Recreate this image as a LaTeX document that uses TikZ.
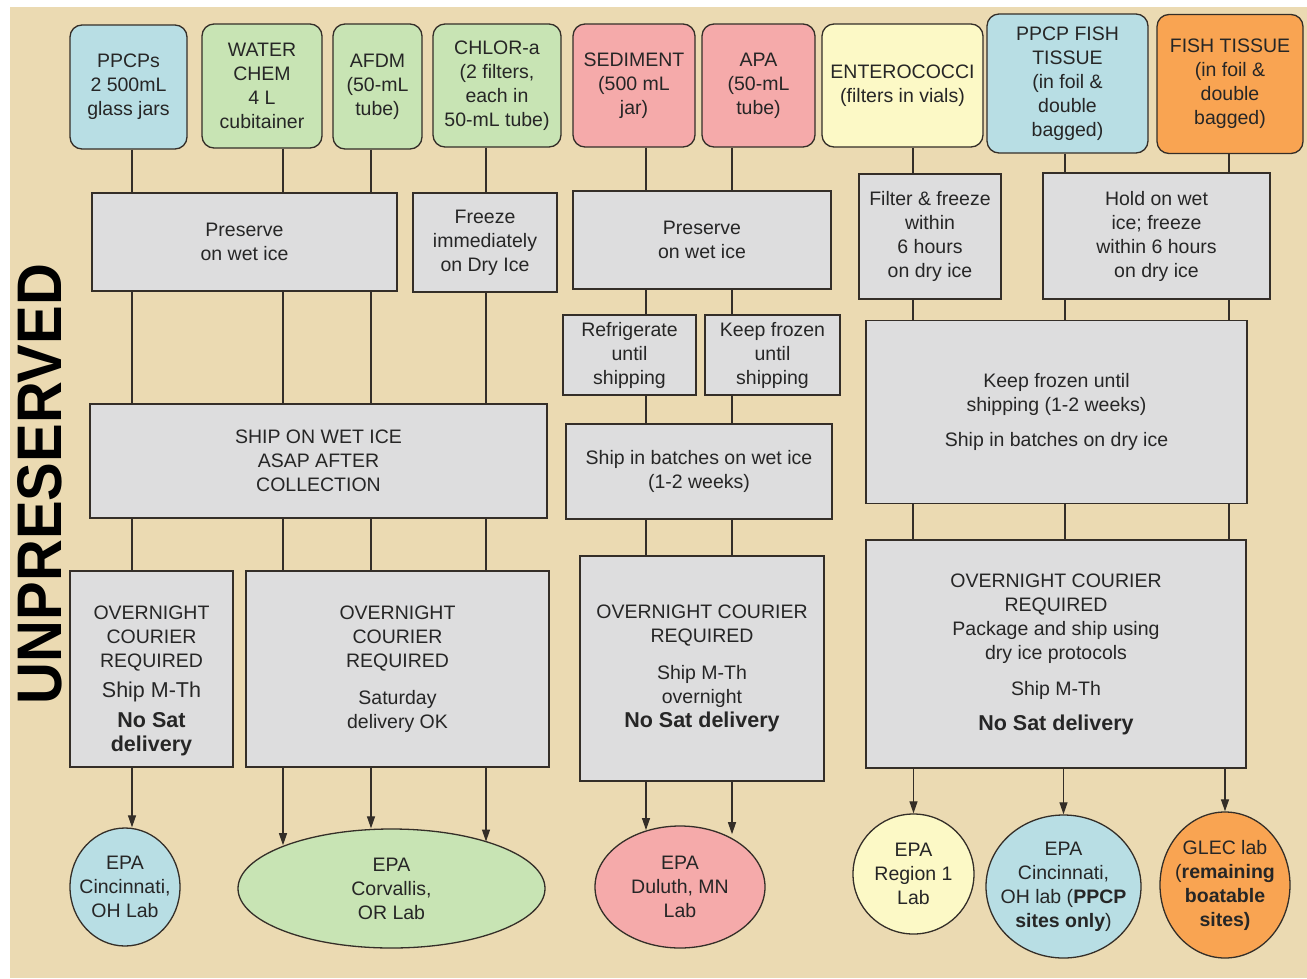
\documentclass[tikz,border=0pt]{standalone}
\usepackage{fontspec}
\setmainfont{Liberation Sans}
\usetikzlibrary{arrows.meta}
\usetikzlibrary{shapes.geometric}

\definecolor{parch}{RGB}{235,218,178}
\definecolor{boxgray}{RGB}{221,221,222}
\definecolor{edge}{RGB}{52,46,40}
\definecolor{sampblue}{RGB}{184,222,228}
\definecolor{sampgreen}{RGB}{200,228,180}
\definecolor{samppink}{RGB}{245,170,170}
\definecolor{sampyellow}{RGB}{252,249,198}
\definecolor{samporange}{RGB}{249,164,82}

\newcommand{\bigtxt}{\fontsize{21.5}{24}\selectfont}

\tikzset{
  txt/.style={font=\fontsize{19.5}{24}\selectfont, align=center, text=black!85},
  sample/.style={txt, draw=edge, line width=1.3pt, rounded corners=12pt, inner sep=0pt},
  stepbox/.style={txt, draw=edge, line width=1.3pt, fill=boxgray, inner sep=0pt},
  lab/.style={ellipse, draw=edge, line width=1.3pt, inner sep=0pt},
  ln/.style={draw=edge, line width=1.2pt},
  arr/.style={ln, -{Triangle[length=12pt, width=8pt]}}
}

\begin{document}
\begin{tikzpicture}[x=1pt, y=-1pt]
        % Canvas
        \useasboundingbox (0, 0) rectangle (1307, 978);
        \fill[parch] (10, 7) rectangle (1307, 978);

        % Side title
        \node[rotate=90, font=\fontsize{63}{63}\selectfont\bfseries] (unp) at (40, 484) {\scalebox{0.92}[1]{UNPRESERVED}};

        % Sample containers
        \node[sample, fill=sampblue, minimum width=117pt, minimum height=124pt] (ppcp) at (128.5, 87) {PPCPs\\2 500mL\\glass jars};
        \node[sample, fill=sampgreen, minimum width=120pt, minimum height=124pt] (wchem) at (262, 86) {WATER\\CHEM\\4 L\\cubitainer};
        \node[sample, fill=sampgreen, minimum width=89pt, minimum height=125pt] (afdm) at (377.5, 86.5) {AFDM\\(50-mL\\tube)};
        \node[sample, fill=sampgreen, minimum width=128pt, minimum height=123pt] (chlor) at (497, 85.5) {CHLOR-a\\(2 filters,\\each in\\50-mL tube)};
        \node[sample, fill=samppink, minimum width=122pt, minimum height=123pt] (sed) at (634, 85.5) {SEDIMENT\\(500 mL\\jar)};
        \node[sample, fill=samppink, minimum width=113pt, minimum height=123pt] (apa) at (758.5, 85.5) {APA\\(50-mL\\tube)};
        \node[sample, fill=sampyellow, minimum width=161pt, minimum height=123pt] (ent) at (902.5, 85.5) {ENTEROCOCCI\\(filters in vials)};
        \node[sample, fill=sampblue, minimum width=161pt, minimum height=139pt] (pfish) at (1067.5, 83.5) {PPCP FISH\\TISSUE\\(in foil \&\\double\\bagged)};
        \node[sample, fill=samporange, minimum width=146pt, minimum height=139pt] (fish) at (1230, 84) {FISH TISSUE\\(in foil \&\\double\\bagged)};

        % Field handling
        \node[stepbox, minimum width=305pt, minimum height=98pt] (prs1) at (244.5, 242) {Preserve\\on wet ice};
        \node[stepbox, minimum width=144pt, minimum height=99pt] (frz) at (485, 242.5) {Freeze\\immediately\\on Dry Ice};
        \node[stepbox, minimum width=258pt, minimum height=98pt] (prs2) at (702, 240) {Preserve\\on wet ice};
        \node[stepbox, minimum width=142pt, minimum height=125pt] (filt) at (930, 236.5) {Filter \& freeze\\within\\6 hours\\on dry ice};
        \node[stepbox, minimum width=227pt, minimum height=126pt] (hold) at (1156.5, 236) {Hold on wet\\ice; freeze\\within 6 hours\\on dry ice};

        % Storage
        \node[stepbox, minimum width=133pt, minimum height=80pt] (refr) at (629.5, 355) {Refrigerate\\until\\shipping};
        \node[stepbox, minimum width=135pt, minimum height=80pt] (keep) at (772.5, 355) {Keep frozen\\until\\shipping};
        \node[stepbox, minimum width=381pt, minimum height=183pt] (frzship) at (1056.5, 412) {Keep frozen until\\shipping (1-2 weeks)\\[11pt]Ship in batches on dry ice};

        % Shipping
        \node[stepbox, minimum width=457pt, minimum height=114pt] (shipwet) at (318.5, 461) {SHIP ON WET ICE\\ASAP AFTER\\COLLECTION};
        \node[stepbox, minimum width=266pt, minimum height=95pt] (batch) at (699, 471.5) {Ship in batches on wet ice\\(1-2 weeks)};

        % Courier rules
        \node[stepbox, minimum width=163pt, minimum height=196pt] (ovn1) at (151.5, 669) {\rule{0pt}{38pt}OVERNIGHT\\COURIER\\REQUIRED\\[6pt]{\bigtxt Ship M-Th}\\[6pt]{\bigtxt\bfseries No Sat}\\{\bigtxt\bfseries delivery}};
        \node[stepbox, minimum width=303pt, minimum height=196pt] (ovn2) at (397.5, 669) {OVERNIGHT\\COURIER\\REQUIRED\\[13pt]Saturday\\delivery OK};
        \node[stepbox, minimum width=244pt, minimum height=225pt] (ovn3) at (702, 668.5) {OVERNIGHT COURIER\\REQUIRED\\[13pt]Ship M-Th\\overnight\\{\bigtxt\bfseries No Sat delivery}};
        \node[stepbox, minimum width=380pt, minimum height=228pt] (ovn4) at (1056, 654) {OVERNIGHT COURIER\\REQUIRED\\Package and ship using\\dry ice protocols\\[12pt]Ship M-Th\\[11pt]{\bigtxt\bfseries No Sat delivery}};

        % Labs
        \node[lab, fill=sampblue, minimum width=110pt, minimum height=118pt] (labc1) at (125, 887) {};
        \node[txt] at (labc1) {EPA\\Cincinnati,\\OH Lab};
        \node[lab, fill=sampgreen, minimum width=307pt, minimum height=119pt] (labcv) at (391.5, 888.5) {};
        \node[txt] at (labcv) {EPA\\Corvallis,\\OR Lab};
        \node[lab, fill=samppink, minimum width=170pt, minimum height=122pt] (labd) at (680, 887) {};
        \node[txt] at (labd) {EPA\\Duluth, MN\\Lab};
        \node[lab, fill=sampyellow, minimum width=121pt, minimum height=120pt] (labr1) at (913.5, 874) {};
        \node[txt] at (labr1) {EPA\\Region 1\\Lab};
        \node[lab, fill=sampblue, minimum width=155pt, minimum height=143pt] (labc2) at (1063.5, 886.5) {};
        \node[txt] at (labc2) {EPA\\Cincinnati,\\OH lab (\textbf{PPCP}\\\textbf{sites only})};
        \node[lab, fill=samporange, minimum width=130pt, minimum height=146pt] (labg) at (1225, 885) {};
        \node[txt] at (labg) {GLEC lab\\(\textbf{remaining}\\\textbf{boatable}\\\textbf{sites)}};

        % Column guides
        \coordinate (k1) at (132, 0);
        \coordinate (k2) at (283, 0);
        \coordinate (k3) at (371, 0);
        \coordinate (k4) at (486, 0);
        \coordinate (k5) at (646, 0);
        \coordinate (k6) at (732, 0);
        \coordinate (k7) at (913, 0);
        \coordinate (k8) at (1065, 0);
        \coordinate (k9) at (1229, 0);

        % PPCPs
        \draw[ln] (ppcp.south -| k1) -- (prs1.north -| k1);
        \draw[ln] (prs1.south -| k1) -- (shipwet.north -| k1);
        \draw[ln] (shipwet.south -| k1) -- (ovn1.north -| k1);
        \draw[arr] (ovn1.south -| k1) -- (labc1.north -| k1);

        % Water chem
        \draw[ln] (wchem.south -| k2) -- (prs1.north -| k2);
        \draw[ln] (prs1.south -| k2) -- (shipwet.north -| k2);
        \draw[ln] (shipwet.south -| k2) -- (ovn2.north -| k2);
        \draw[arr] (ovn2.south -| k2) -- (labcv.158.8 -| k2);

        % AFDM
        \draw[ln] (afdm.south -| k3) -- (prs1.north -| k3);
        \draw[ln] (prs1.south -| k3) -- (shipwet.north -| k3);
        \draw[ln] (shipwet.south -| k3) -- (ovn2.north -| k3);
        \draw[arr] (ovn2.south -| k3) -- (labcv.north -| k3);

        % Chlorophyll
        \draw[ln] (chlor.south -| k4) -- (frz.north -| k4);
        \draw[ln] (frz.south -| k4) -- (shipwet.north -| k4);
        \draw[ln] (shipwet.south -| k4) -- (ovn2.north -| k4);
        \draw[arr] (ovn2.south -| k4) -- (labcv.26.4 -| k4);

        % Sediment
        \draw[ln] (sed.south -| k5) -- (prs2.north -| k5);
        \draw[ln] (prs2.south -| k5) -- (refr.north -| k5);
        \draw[ln] (refr.south -| k5) -- (batch.north -| k5);
        \draw[ln] (batch.south -| k5) -- (ovn3.north -| k5);
        \draw[arr] (ovn3.south -| k5) -- (labd.120 -| k5);

        % APA
        \draw[ln] (apa.south -| k6) -- (prs2.north -| k6);
        \draw[ln] (prs2.south -| k6) -- (keep.north -| k6);
        \draw[ln] (keep.south -| k6) -- (batch.north -| k6);
        \draw[ln] (batch.south -| k6) -- (ovn3.north -| k6);
        \draw[arr] (ovn3.south -| k6) -- (labd.50 -| k6);

        % Enterococci
        \draw[ln] (ent.south -| k7) -- (filt.north -| k7);
        \draw[ln] (filt.south -| k7) -- (frzship.north -| k7);
        \draw[ln] (frzship.south -| k7) -- (ovn4.north -| k7);
        \draw[arr] (ovn4.south -| labr1.north) -- (labr1.north);

        % PPCP fish tissue
        \draw[ln] (pfish.south -| k8) -- (hold.north -| k8);
        \draw[ln] (hold.south -| k8) -- (frzship.north -| k8);
        \draw[ln] (frzship.south -| k8) -- (ovn4.north -| k8);
        \draw[arr] (ovn4.south -| labc2.north) -- (labc2.north);

        % Fish tissue
        \draw[ln] (fish.south -| k9) -- (hold.north -| k9);
        \draw[ln] (hold.south -| k9) -- (frzship.north -| k9);
        \draw[ln] (frzship.south -| k9) -- (ovn4.north -| k9);
        \draw[arr] (ovn4.south -| labg.north) -- (labg.north);

\end{tikzpicture}
\end{document}
